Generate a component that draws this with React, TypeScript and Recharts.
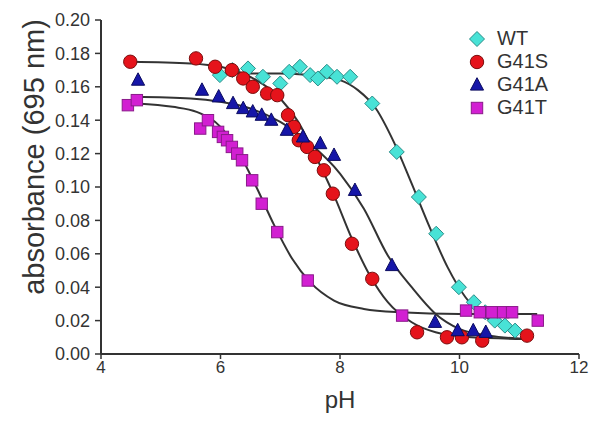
import { ComposedChart, Scatter, Line, XAxis, YAxis, Label } from 'recharts'

// measured points [pH, absorbance]
const wtPoints = [
  [5.99, 0.167], [6.2, 0.17], [6.46, 0.171], [6.71, 0.166], [7.0, 0.162], [7.15, 0.169],
  [7.33, 0.172], [7.5, 0.167], [7.63, 0.165], [7.78, 0.169], [7.95, 0.166], [8.17, 0.166],
  [8.54, 0.15], [8.95, 0.121], [9.32, 0.094], [9.61, 0.072], [9.99, 0.04], [10.24, 0.031],
  [10.43, 0.025], [10.59, 0.02], [10.76, 0.017], [10.93, 0.014],
]
const g41sPoints = [
  [4.49, 0.175], [5.59, 0.177], [5.91, 0.172], [6.19, 0.17], [6.38, 0.165], [6.54, 0.16],
  [6.78, 0.156], [6.95, 0.155], [7.13, 0.143], [7.23, 0.136], [7.31, 0.128], [7.45, 0.124],
  [7.58, 0.118], [7.73, 0.11], [7.88, 0.096], [8.2, 0.066], [8.54, 0.045], [9.29, 0.013],
  [9.79, 0.01], [10.04, 0.01], [10.38, 0.008], [11.13, 0.011],
]
const g41aPoints = [
  [4.62, 0.164], [5.69, 0.158], [5.97, 0.154], [6.21, 0.15], [6.38, 0.147], [6.54, 0.145],
  [6.69, 0.143], [6.85, 0.14], [7.11, 0.134], [7.38, 0.13], [7.67, 0.126], [7.9, 0.119],
  [8.25, 0.098], [8.87, 0.053], [9.59, 0.019], [9.97, 0.014], [10.23, 0.014], [10.44, 0.013],
]
const g41tPoints = [
  [4.45, 0.149], [4.6, 0.152], [5.66, 0.135], [5.79, 0.14], [5.96, 0.133], [6.04, 0.13],
  [6.11, 0.128], [6.19, 0.124], [6.28, 0.12], [6.36, 0.116], [6.53, 0.104], [6.69, 0.09],
  [6.95, 0.073], [7.46, 0.044], [9.04, 0.023], [10.11, 0.026], [10.34, 0.025], [10.54, 0.025],
  [10.73, 0.025], [10.88, 0.025], [11.31, 0.02],
]

// fitted curves
const wtFit = [
  [6.0, 0.168], [7.0, 0.168], [7.5, 0.167], [8.0, 0.164], [8.3, 0.158], [8.6, 0.147],
  [8.9, 0.127], [9.2, 0.102], [9.5, 0.076], [9.8, 0.052], [10.1, 0.034], [10.4, 0.023],
  [10.7, 0.017], [11.0, 0.014],
]
const g41sFit = [
  [4.5, 0.175], [5.5, 0.174], [6.0, 0.172], [6.5, 0.166], [7.0, 0.153], [7.3, 0.139],
  [7.6, 0.118], [7.9, 0.095], [8.2, 0.069], [8.5, 0.047], [8.8, 0.031], [9.2, 0.019],
  [9.6, 0.013], [10.2, 0.01], [11.1, 0.009],
]
const g41aFit = [
  [4.55, 0.154], [5.5, 0.153], [6.0, 0.151], [6.5, 0.147], [7.0, 0.139], [7.5, 0.126],
  [8.0, 0.108], [8.4, 0.087], [8.8, 0.059], [9.2, 0.04], [9.6, 0.024], [10.0, 0.015],
  [10.5, 0.011], [11.1, 0.009],
]
const g41tFit = [
  [4.6, 0.15], [5.2, 0.148], [5.6, 0.145], [6.0, 0.136], [6.3, 0.121], [6.6, 0.1],
  [6.9, 0.077], [7.2, 0.057], [7.5, 0.043], [7.9, 0.032], [8.4, 0.027], [9.0, 0.025],
  [10.0, 0.024], [11.3, 0.024],
]

const xTicks = [4, 6, 8, 10, 12]
const yTicks = [0, 0.02, 0.04, 0.06, 0.08, 0.1, 0.12, 0.14, 0.16, 0.18, 0.2]

const FONT = '"Liberation Sans", Arial, sans-serif'
const AXIS = '#333'

const toRows = (pairs: number[][]) => pairs.map(([ph, abs]) => ({ ph, abs }))

type Marker = 'diamond' | 'circle' | 'triangle' | 'square'

function MarkerShape({ kind, cx, cy, fill, stroke }: { kind: Marker; cx: number; cy: number; fill: string; stroke: string }) {
  if (kind === 'diamond') {
    const r = 7.5
    return <polygon points={`${cx},${cy - r} ${cx + r},${cy} ${cx},${cy + r} ${cx - r},${cy}`} fill={fill} stroke={stroke} strokeWidth={1} />
  }
  if (kind === 'circle') return <circle cx={cx} cy={cy} r={6.7} fill={fill} stroke={stroke} strokeWidth={1} />
  if (kind === 'triangle') {
    const r = 7.3
    return <polygon points={`${cx},${cy - r} ${cx + r * 0.9},${cy + r * 0.7} ${cx - r * 0.9},${cy + r * 0.7}`} fill={fill} stroke={stroke} strokeWidth={1} />
  }
  return <rect x={cx - 5.7} y={cy - 5.7} width={11.4} height={11.4} fill={fill} stroke={stroke} strokeWidth={1} />
}

const series = [
  { name: 'WT', points: wtPoints, fit: wtFit, kind: 'diamond' as Marker, fill: '#48e2d6', stroke: '#2a8c88' },
  { name: 'G41S', points: g41sPoints, fit: g41sFit, kind: 'circle' as Marker, fill: '#e5131b', stroke: '#7a0d0d' },
  { name: 'G41A', points: g41aPoints, fit: g41aFit, kind: 'triangle' as Marker, fill: '#1616a8', stroke: '#0b0b60' },
  { name: 'G41T', points: g41tPoints, fit: g41tFit, kind: 'square' as Marker, fill: '#d21fd2', stroke: '#8a1a8a' },
]

function LegendBox() {
  return (
    <div style={{ position: 'absolute', left: 467, top: 27, fontFamily: FONT, fontSize: 20, color: '#333' }}>
      {series.map((s) => (
        <div key={s.name} style={{ display: 'flex', alignItems: 'center', height: 23 }}>
          <svg width={20} height={20} style={{ marginRight: 10 }}>
            <MarkerShape kind={s.kind} cx={10} cy={10} fill={s.fill} stroke={s.stroke} />
          </svg>
          <span>{s.name}</span>
        </div>
      ))}
    </div>
  )
}

export default function App() {
  return (
    <div style={{ position: 'absolute', left: 0, top: 0, width: 600, height: 422, background: '#fff' }}>
      <ComposedChart width={600} height={422} margin={{ top: 20, right: 21, left: 41, bottom: 38 }}>
        <XAxis
          type="number"
          dataKey="ph"
          domain={[4, 12]}
          ticks={xTicks}
          allowDataOverflow
          height={30}
          tickSize={5}
          tick={{ fill: AXIS, fontFamily: FONT, fontSize: 17 }}
          axisLine={{ stroke: AXIS, strokeWidth: 2 }}
          tickLine={{ stroke: AXIS, strokeWidth: 1.5 }}
        >
          <Label value="pH" position="bottom" offset={7} style={{ fill: AXIS, fontFamily: FONT, fontSize: 24 }} />
        </XAxis>
        <YAxis
          type="number"
          dataKey="abs"
          domain={[0, 0.2]}
          ticks={yTicks}
          allowDataOverflow
          width={60}
          tickSize={6}
          tickMargin={5}
          tickFormatter={(v: number) => v.toFixed(2)}
          tick={{ fill: AXIS, fontFamily: FONT, fontSize: 18 }}
          axisLine={{ stroke: AXIS, strokeWidth: 2 }}
          tickLine={{ stroke: AXIS, strokeWidth: 1.5 }}
        >
          <Label
            value="absorbance (695 nm)"
            angle={-90}
            position="left"
            offset={7}
            dy={-30}
            style={{ fill: AXIS, fontFamily: FONT, fontSize: 29, textAnchor: 'middle' }}
          />
        </YAxis>
        {series.map((s) => (
          <Scatter
            key={`pts-${s.name}`}
            name={s.name}
            data={toRows(s.points)}
            dataKey="abs"
            isAnimationActive={false}
            shape={(p: any) => <MarkerShape kind={s.kind} cx={p.cx} cy={p.cy} fill={s.fill} stroke={s.stroke} />}
          />
        ))}
        {series.map((s) => (
          <Line
            key={`fit-${s.name}`}
            data={toRows(s.fit)}
            dataKey="abs"
            type="monotone"
            stroke="#333"
            strokeWidth={2}
            dot={false}
            activeDot={false}
            legendType="none"
            isAnimationActive={false}
          />
        ))}
      </ComposedChart>
      <LegendBox />
    </div>
  )
}
